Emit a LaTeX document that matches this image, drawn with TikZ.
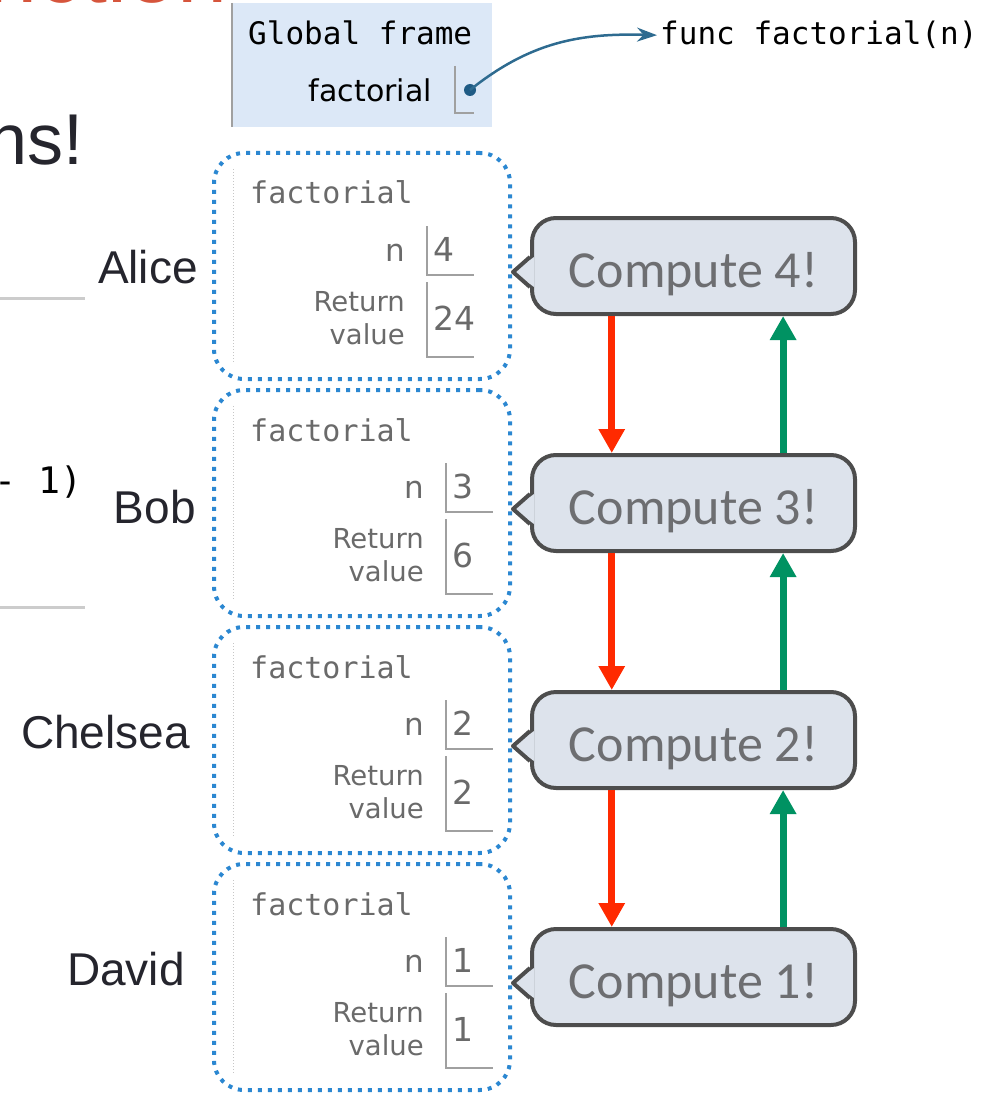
\documentclass[tikz,border=0pt]{standalone}
\usepackage{fontspec}
\setmainfont{Liberation Sans}
\newfontfamily\monofont{DejaVu Sans Mono}
\newfontfamily\ptfont{DejaVu Sans}
\newfontfamily\slidefont{Carlito}
\usetikzlibrary{calc,arrows.meta}
\tikzset{>=latex}
\definecolor{frameblue}{HTML}{2B87D1}
\definecolor{globalfill}{HTML}{DCE8F7}
\definecolor{calloutfill}{HTML}{DDE3EC}
\definecolor{calloutline}{HTML}{4D4D4D}
\definecolor{callouttext}{HTML}{6D6E71}
\definecolor{downred}{HTML}{FF2A00}
\definecolor{upgreen}{HTML}{009262}
\definecolor{pointerblue}{HTML}{2E6B90}
\definecolor{dotblue}{HTML}{1F5B85}
\definecolor{titlered}{HTML}{D6553C}
\definecolor{inkdark}{HTML}{25252D}
\definecolor{cellgray}{HTML}{A0A0A0}
\definecolor{labelgray}{HTML}{6A6A6A}
\definecolor{rulegray}{HTML}{CCCCCC}

\begin{document}
\begin{tikzpicture}
  [
   x=1pt,y=-1pt,
   framebox/.style={draw=frameblue,line width=4pt,dash pattern=on 4pt off 6pt,
                    rounded corners=30pt,minimum width=296pt,minimum height=226pt,inner sep=0pt},
   callbox/.style={draw=calloutline,fill=calloutfill,line width=4pt,rounded corners=24pt,
                   minimum width=323pt,minimum height=96pt,text=callouttext,
                   text height=50pt,text depth=7pt,
                   font=\slidefont\fontsize{52}{56}\selectfont},
   who/.style={anchor=base east,inner sep=0pt,text=inkdark,font=\fontsize{46}{50}\selectfont},
   framename/.style={anchor=base west,inner sep=0pt,text=labelgray,font=\monofont\fontsize{30}{34}\selectfont},
   varname/.style={anchor=base east,inner sep=0pt,text=labelgray,font=\ptfont\fontsize{31}{34}\selectfont},
   retname/.style={anchor=base east,inner sep=0pt,text=labelgray,font=\ptfont\fontsize{27.5}{30}\selectfont},
   varval/.style={anchor=base west,inner sep=0pt,text=labelgray,font=\ptfont\fontsize{33}{36}\selectfont},
   cell/.style={draw=cellgray,line width=1.5pt},
   downarrow/.style={draw=downred,line width=7pt,-{Triangle[width=25pt,length=24pt]}},
   uparrow/.style={draw=upgreen,line width=7pt,-{Triangle[width=25pt,length=24pt]}}
  ]
  \useasboundingbox (0,0) rectangle (1001,1094);
  \clip (0,0) rectangle (1001,1094);

  % slide leftovers
  \node[anchor=base east,inner sep=0pt,text=titlered,font=\fontsize{90}{90}\selectfont] (titlefrag) at (228,3) {nction};
  \node[anchor=base east,inner sep=0pt,text=inkdark,font=\fontsize{72}{72}\selectfont] (subtitle) at (84,165) {ns!};
  \node[anchor=base west,inner sep=0pt,font=\monofont\fontsize{36.5}{40}\selectfont] (codefrag) at (-6,493) {- 1)};
  \draw[rulegray,line width=3pt] (0,298) -- (85,298);
  \draw[rulegray,line width=3pt] (0,607) -- (85,607);

  % global frame
  \node[fill=globalfill,minimum width=260pt,minimum height=124pt,inner sep=0pt] (gframe) at (362,65) {};
  \draw[cellgray,line width=2pt] (gframe.north west) -- (gframe.south west);
  \node[anchor=base west,inner sep=0pt,font=\monofont\fontsize{31}{34}\selectfont] (gtitle) at (248,45) {Global frame};
  \node[anchor=base east,inner sep=0pt,font=\ptfont\fontsize{30}{34}\selectfont] (gname) at (432,102) {factorial};
  \draw[cell] (455,66) -- (455,113) -- (474,113);
  \node[circle,fill=dotblue,inner sep=0pt,minimum size=12pt] (fdot) at (470,90) {};
  \node[anchor=base west,inner xsep=3pt,inner ysep=0pt,font=\monofont\fontsize{31}{34}\selectfont] (func) at (657,45) {func factorial(n)};
  \draw[pointerblue,line width=2.5pt,-{Stealth[length=20pt,width=14pt]}]
       (fdot.center) .. controls (530,42) and (580,33) .. (func.west);

  % one frame and one callout per call
  \foreach \k/\who/\wx/\wy/\nv/\rv/\dx in
     {0/Alice/198/283/4/24/0, 1/Bob/196/523/3/6/19, 2/Chelsea/190/748/2/2/19, 3/David/185/985/1/1/19}
  {
    \pgfmathsetmacro\T{152+237*\k}
    \node[framebox] (frame\k) at (362,\T+114) {};
    \draw[gray!45,line width=1pt,dotted] (233,\T+17) -- (233,\T+211);
    \node[framename] (fname\k) at (250,\T+52) {factorial};
    \node[varname] (nname\k) at (405+\dx,\T+109) {n};
    \node[varval] (nval\k) at (433+\dx,\T+109) {\nv};
    \draw[cell] (427+\dx,\T+74) -- (427+\dx,\T+123) -- (474+\dx,\T+123);
    \node[retname] (ret\k) at (405+\dx,\T+159) {Return};
    \node[retname] (val\k) at (405+\dx,\T+192) {value};
    \node[varval] (rval\k) at (433+\dx,\T+178) {\rv};
    \draw[cell] (427+\dx,\T+130) -- (427+\dx,\T+205) -- (474+\dx,\T+205);
    \node[who] (who\k) at (\wx,\wy) {\who};
    % callout with its pointer
    \node[callbox] (call\k) at (693.5,266+237*\k)
         {Compute \pgfmathparse{int(4-\k)}\pgfmathresult!};
    \coordinate (tip\k) at ($(call\k.west)+(-17,6)$);
    \fill[calloutfill] ($(call\k.west)+(4,-9)$) -- (tip\k) -- ($(call\k.west)+(4,21)$) -- cycle;
    \draw[calloutline,line width=4pt,line join=round]
         ($(call\k.west)+(0,-9)$) -- (tip\k) -- ($(call\k.west)+(0,21)$);
  }

  % calls go down, results come back up
  \foreach \k/\j in {0/1,1/2,2/3}
  {
    \draw[downarrow] ($(call\k.south west)!.25!(call\k.south east)$)
                  -- ($(call\j.north west)!.25!(call\j.north east)$);
    \draw[uparrow] ($(call\j.north west)!.774!(call\j.north east)$)
                -- ($(call\k.south west)!.774!(call\k.south east)$);
  }
\end{tikzpicture}
\end{document}
